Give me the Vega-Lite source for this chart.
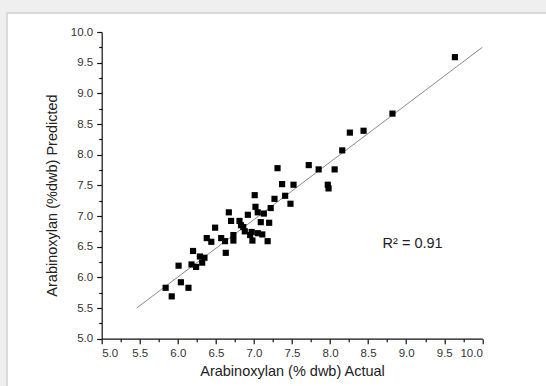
{
  "$schema": "https://vega.github.io/schema/vega-lite/v6.json",
  "width": 380.6,
  "height": 306.7,
  "autosize": {"type": "none"},
  "padding": {"left": 101.7, "top": 32, "right": 63.7, "bottom": 47.3},
  "background": "#efefef",
  "config": {
    "view": {"stroke": null},
    "font": "Liberation Sans",
    "axis": {
      "grid": false,
      "labelFont": "Liberation Sans",
      "labelFontSize": 11.5,
      "labelColor": "#333333",
      "titleFont": "Liberation Sans",
      "titleFontSize": 14.5,
      "titleFontWeight": "normal",
      "titleColor": "#222222"
    }
  },
  "datasets": {
    "panel": [{"left": 3.755, "right": 11.5, "top": 10.31, "bottom": 3.5}],
    "samples": [
      {"actual": 5.84, "predicted": 5.83},
      {"actual": 5.92, "predicted": 5.69},
      {"actual": 6.01, "predicted": 6.19},
      {"actual": 6.04, "predicted": 5.92},
      {"actual": 6.14, "predicted": 5.83},
      {"actual": 6.20, "predicted": 6.43},
      {"actual": 6.18, "predicted": 6.21},
      {"actual": 6.24, "predicted": 6.17},
      {"actual": 6.29, "predicted": 6.34},
      {"actual": 6.32, "predicted": 6.24},
      {"actual": 6.35, "predicted": 6.32},
      {"actual": 6.38, "predicted": 6.64},
      {"actual": 6.44, "predicted": 6.58},
      {"actual": 6.49, "predicted": 6.81},
      {"actual": 6.57, "predicted": 6.64},
      {"actual": 6.62, "predicted": 6.59},
      {"actual": 6.63, "predicted": 6.40},
      {"actual": 6.67, "predicted": 7.06},
      {"actual": 6.70, "predicted": 6.92},
      {"actual": 6.73, "predicted": 6.69},
      {"actual": 6.73, "predicted": 6.60},
      {"actual": 6.81, "predicted": 6.92},
      {"actual": 6.83, "predicted": 6.85},
      {"actual": 6.86, "predicted": 6.82},
      {"actual": 6.88, "predicted": 6.75},
      {"actual": 6.92, "predicted": 7.02},
      {"actual": 6.95, "predicted": 6.69},
      {"actual": 6.97, "predicted": 6.74},
      {"actual": 6.98, "predicted": 6.60},
      {"actual": 7.01, "predicted": 7.34},
      {"actual": 7.02, "predicted": 7.15},
      {"actual": 7.05, "predicted": 7.06},
      {"actual": 7.05, "predicted": 6.72},
      {"actual": 7.09, "predicted": 6.90},
      {"actual": 7.11, "predicted": 6.70},
      {"actual": 7.13, "predicted": 7.04},
      {"actual": 7.18, "predicted": 6.59},
      {"actual": 7.20, "predicted": 6.89},
      {"actual": 7.22, "predicted": 7.13},
      {"actual": 7.27, "predicted": 7.28},
      {"actual": 7.31, "predicted": 7.78},
      {"actual": 7.37, "predicted": 7.52},
      {"actual": 7.41, "predicted": 7.33},
      {"actual": 7.48, "predicted": 7.20},
      {"actual": 7.52, "predicted": 7.51},
      {"actual": 7.72, "predicted": 7.83},
      {"actual": 7.85, "predicted": 7.76},
      {"actual": 7.97, "predicted": 7.51},
      {"actual": 7.98, "predicted": 7.45},
      {"actual": 8.06, "predicted": 7.76},
      {"actual": 8.16, "predicted": 8.07},
      {"actual": 8.26, "predicted": 8.36},
      {"actual": 8.44, "predicted": 8.39},
      {"actual": 8.82, "predicted": 8.67},
      {"actual": 9.64, "predicted": 9.59}
    ],
    "fit": [
      {"actual": 5.46, "predicted": 5.50},
      {"actual": 10.0, "predicted": 9.75}
    ],
    "annotation": [
      {"actual": 8.69, "predicted": 6.54, "label": "R² = 0.91"}
    ]
  },
  "resolve": {"axis": {"x": "independent", "y": "independent"}},
  "layer": [
    {
      "data": {"name": "panel"},
      "mark": {"type": "rect", "fill": "white", "stroke": "#d9d9d9", "strokeWidth": 2},
      "encoding": {
        "x": {"field": "left", "type": "quantitative", "scale": {"domain": [5, 10], "nice": false, "zero": false}, "axis": null},
        "x2": {"field": "right"},
        "y": {"field": "top", "type": "quantitative", "scale": {"domain": [5, 10], "nice": false, "zero": false}, "axis": null},
        "y2": {"field": "bottom"}
      }
    },
    {
      "data": {"name": "fit"},
      "mark": {"type": "line", "color": "#8a8a8a", "strokeWidth": 1},
      "encoding": {
        "x": {"field": "actual", "type": "quantitative", "scale": {"domain": [5, 10], "nice": false, "zero": false},
          "axis": {"orient": "bottom", "zindex": 2, "values": [5.25, 5.75, 6.25, 6.75, 7.25, 7.75, 8.25, 8.75, 9.25, 9.75], "labels": false, "domain": false, "ticks": true, "tickColor": "#111111", "tickWidth": 1.2, "tickSize": 3, "title": null}},
        "y": {"field": "predicted", "type": "quantitative", "scale": {"domain": [5, 10], "nice": false, "zero": false},
          "axis": {"orient": "left", "zindex": 2, "values": [5.25, 5.75, 6.25, 6.75, 7.25, 7.75, 8.25, 8.75, 9.25, 9.75], "labels": false, "domain": false, "ticks": true, "tickColor": "#111111", "tickWidth": 1.2, "tickSize": 3, "title": null}}
      }
    },
    {
      "data": {"name": "samples"},
      "mark": {"type": "point", "shape": "square", "filled": true, "color": "#000000", "opacity": 1, "size": 38},
      "encoding": {
        "x": {"field": "actual", "type": "quantitative", "scale": {"domain": [5, 10], "nice": false, "zero": false},
          "axis": {"orient": "bottom", "zindex": 2, "values": [5, 5.5, 6, 6.5, 7, 7.5, 8, 8.5, 9, 9.5, 10], "format": ".1f", "domain": true, "domainColor": "#111111", "domainWidth": 1.2, "ticks": true, "tickColor": "#111111", "tickWidth": 1.2, "tickSize": 5, "labelPadding": 4, "titlePadding": 5, "title": "Arabinoxylan (% dwb) Actual"}},
        "y": {"field": "predicted", "type": "quantitative", "scale": {"domain": [5, 10], "nice": false, "zero": false},
          "axis": {"orient": "left", "zindex": 2, "values": [5, 5.5, 6, 6.5, 7, 7.5, 8, 8.5, 9, 9.5, 10], "format": ".1f", "domain": true, "domainColor": "#111111", "domainWidth": 1.2, "ticks": true, "tickColor": "#111111", "tickWidth": 1.2, "tickSize": 5, "labelPadding": 4, "title": "Arabinoxylan (%dwb) Predicted", "titleAngle": -90, "titleAlign": "center", "titleBaseline": "middle", "titleX": -49, "titleY": 163}}
      }
    },
    {
      "data": {"name": "annotation"},
      "mark": {"type": "text", "align": "left", "baseline": "middle", "font": "Liberation Sans", "fontSize": 14.5, "color": "#222222"},
      "encoding": {
        "x": {"field": "actual", "type": "quantitative", "scale": {"domain": [5, 10], "nice": false, "zero": false}, "axis": null},
        "y": {"field": "predicted", "type": "quantitative", "scale": {"domain": [5, 10], "nice": false, "zero": false}, "axis": null},
        "text": {"field": "label"}
      }
    }
  ]
}
